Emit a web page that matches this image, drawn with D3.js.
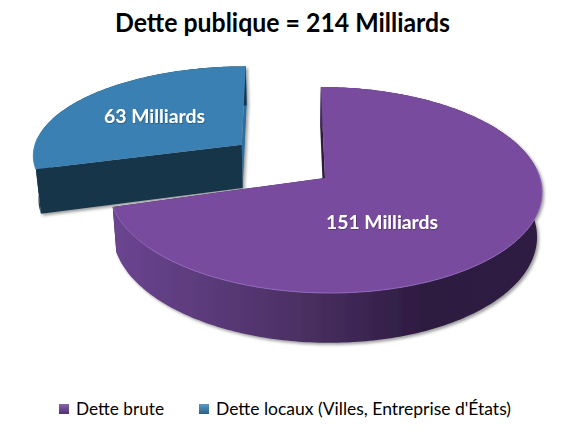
<!DOCTYPE html>
<html>
<head>
<meta charset="utf-8">
<script src="https://cdn.jsdelivr.net/npm/d3@7"></script>
<style>
html,body{margin:0;padding:0;background:#fff}
svg{display:block}
text{font-family:Lato,"Open Sans",sans-serif}
</style>
</head>
<body>
<script>
// Public debt split, in billions
const chartTitle = "Dette publique = 214 Milliards";
const categories = ["Dette brute", "Dette locaux (Villes, Entreprise d'États)"];
const values = [151, 63];
const sliceLabels = ["151 Milliards", "63 Milliards"];

const W = 562, H = 445;
const svg = d3.select("body").append("svg").attr("width", W).attr("height", H);
const defs = svg.append("defs");

// Perspective view of the pie plane: unit-radius disc, +z towards the viewer
const view = {x0: 325, y0: 178, vx: 285, rx: 215, ry: 101.6, k: 0.1165, depth: 44, bottomScale: 0.98, pivot: 290};
const horizon = view.y0 - view.ry / view.k;
const project = (x, z, lower, extraDepth = 1) => {
  const w = 1 - view.k * z;
  let px = view.vx + (view.x0 - view.vx + view.rx * x) / w;
  let py = horizon + (view.ry / view.k) / w;
  if (lower) {
    px = view.pivot + (px - view.pivot) * view.bottomScale;
    py += view.depth * extraDepth / w;
  }
  return [px, py];
};

// Each slice sits at its own offset on the plane; the exploded one is slightly foreshortened
const placement = [{x: 0, z: 0, rz: 1, h: 1}, {x: -0.395, z: -0.34, rz: 0.92, h: 1.02}];

const pie = d3.pie().sort(null).value(d => d)(values);
const line = d3.line();
const polar = (a, o) => [o.x + Math.sin(a), o.z - Math.cos(a) * o.rz];
const arcPoints = (d, o, lower) => {
  const n = Math.ceil((d.endAngle - d.startAngle) * 60);
  return d3.range(n + 1).map(i => {
    const a = d.startAngle + (d.endAngle - d.startAngle) * i / n;
    const [x, z] = polar(a, o);
    return project(x, z, lower, o.h);
  });
};

const styles = [
  {top: "#794c9e", rim: "#9169bb", wallStart: "#2f1c41", wallEnd: "#2f1c41",
   side: [[0, "#6b4591"], [0.42, "#4c3165"], [0.72, "#2e1c41"], [1, "#2f1d42"]], range: [112, 543]},
  {top: "#3a80b2", rim: "#4a90c2", wallStart: "#2f6d99", wallEnd: "#19354a",
   side: [[0, "#19354a"], [1, "#19354a"]], range: [30, 250]}
];
styles.forEach((s, i) => {
  const g = defs.append("linearGradient").attr("id", "side" + i)
    .attr("gradientUnits", "userSpaceOnUse")
    .attr("x1", s.range[0]).attr("x2", s.range[1]).attr("y1", 0).attr("y2", 0);
  s.side.forEach(([o, c]) => g.append("stop").attr("offset", o).attr("stop-color", c));
});

const shadow = defs.append("filter").attr("id", "soft")
  .attr("x", "-10%").attr("y", "-10%").attr("width", "120%").attr("height", "130%");
shadow.append("feDropShadow").attr("dx", 2).attr("dy", 2).attr("stdDeviation", 1.4)
  .attr("flood-color", "#000").attr("flood-opacity", 0.38);

const textShadow = defs.append("filter").attr("id", "labelGlow")
  .attr("x", "-10%").attr("y", "-30%").attr("width", "120%").attr("height", "160%");
textShadow.append("feDropShadow").attr("dx", 0.6).attr("dy", 0.6).attr("stdDeviation", 0.5)
  .attr("flood-color", "#000").attr("flood-opacity", 0.45);

// Exploded slice goes first so the main slice overlaps it
[1, 0].forEach(i => {
  const d = pie[i], s = styles[i], o = placement[i];
  const g = svg.append("g").attr("class", "slice-" + i);
  const solid = g.append("g").attr("filter", "url(#soft)");

  const cTop = project(o.x, o.z, false), cLow = project(o.x, o.z, true, o.h);
  const edge = (a, lower) => { const [x, z] = polar(a, o); return project(x, z, lower, o.h); };

  // Radial walls of the cut
  [[d.endAngle, s.wallStart], [d.startAngle, s.wallEnd]].forEach(([a, fill]) => {
    solid.append("path")
      .attr("d", line([cTop, edge(a, false), edge(a, true), cLow]) + "Z")
      .attr("fill", fill);
  });

  // Curved outer wall
  const topArc = arcPoints(d, o, false), lowArc = arcPoints(d, o, true);
  solid.append("path")
    .attr("d", line(topArc.concat(lowArc.slice().reverse())) + "Z")
    .attr("fill", `url(#side${i})`);

  // Top face
  solid.append("path")
    .attr("d", line([cTop].concat(topArc)) + "Z")
    .attr("fill", s.top);

  // Light rim along the front edge
  const front = topArc.filter((p, j) => {
    const a = d.startAngle + (d.endAngle - d.startAngle) * j / (topArc.length - 1);
    return Math.cos(a) < 0.1;
  });
  g.append("path").attr("d", line(front)).attr("fill", "none")
    .attr("stroke", s.rim).attr("stroke-width", 1);
});

// Title
svg.append("text").attr("x", 282.5).attr("y", 32).attr("text-anchor", "middle")
  .attr("font-size", 26).attr("font-weight", 700).attr("fill", "#000")
  .attr("textLength", 335).attr("lengthAdjust", "spacingAndGlyphs")
  .text(chartTitle);

// Value labels
const labelAnchors = [[382, 229, 112], [154.5, 123, 101]];
sliceLabels.forEach((t, i) => {
  svg.append("text").attr("x", labelAnchors[i][0]).attr("y", labelAnchors[i][1])
    .attr("text-anchor", "middle").attr("font-size", 19).attr("font-weight", 700)
    .attr("fill", "#fff").attr("filter", "url(#labelGlow)")
    .attr("textLength", labelAnchors[i][2]).attr("lengthAdjust", "spacingAndGlyphs")
    .text(t);
});

// Legend
const legendX = [59, 199], legendWidths = [88, 295], swatchHi = ["#8a63ad", "#5b9ac6"], swatchLo = ["#4f2f70", "#2a5f85"];
categories.forEach((c, i) => {
  const g = defs.append("linearGradient").attr("id", "sw" + i).attr("x1", 0).attr("x2", 0).attr("y1", 0).attr("y2", 1);
  g.append("stop").attr("offset", 0).attr("stop-color", swatchHi[i]);
  g.append("stop").attr("offset", 1).attr("stop-color", swatchLo[i]);
  svg.append("rect").attr("x", legendX[i]).attr("y", 404).attr("width", 10).attr("height", 10)
    .attr("fill", `url(#sw${i})`);
  svg.append("text").attr("x", legendX[i] + 17).attr("y", 415).attr("font-size", 17).attr("fill", "#000")
    .attr("textLength", legendWidths[i]).attr("lengthAdjust", "spacingAndGlyphs")
    .text(c);
});
</script>
</body>
</html>
